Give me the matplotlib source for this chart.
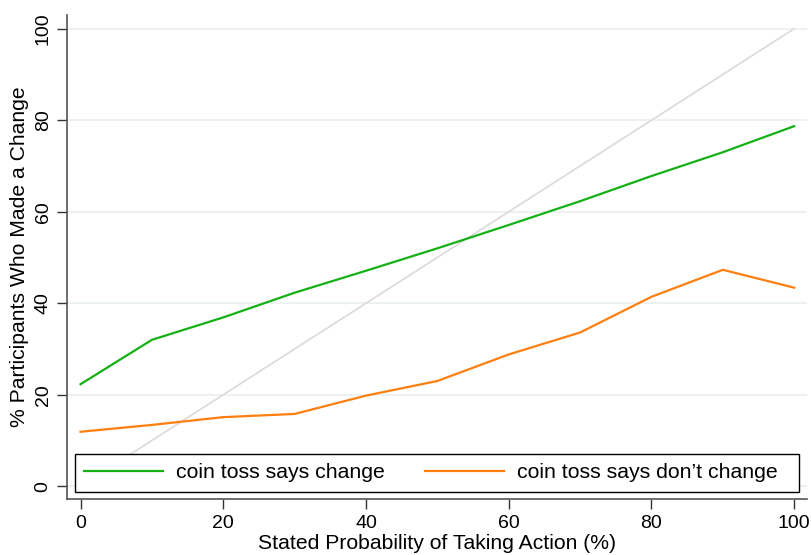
import matplotlib
matplotlib.use("Agg")
import matplotlib.pyplot as plt
from matplotlib.patches import Rectangle

prob = [0, 10, 20, 30, 40, 50, 60, 70, 80, 90, 100]
says_change = [22.3, 32.0, 36.9, 42.3, 47.1, 52.0, 57.1, 62.3, 67.8, 73.0, 78.7]
says_dont = [11.9, 13.4, 15.1, 15.8, 19.8, 23.0, 28.8, 33.6, 41.4, 47.3, 43.4]
diag = [0, 100]
xticks = [0, 20, 40, 60, 80, 100]
yticks = [0, 20, 40, 60, 80, 100]

plt.rcParams['font.family'] = ['Liberation Sans', 'DejaVu Sans']

fig = plt.figure(figsize=(8.12, 5.55), dpi=100)
ax = fig.add_axes([67/812, 1 - 499.3/555, 740/812, 484.3/555])

for y in yticks:
    ax.axhline(y, color='#eaf0f3', lw=1.3, zorder=0)

ax.plot(diag, diag, color='#dadada', lw=1.2, zorder=1)
ax.plot(prob, says_change, color='#14b014', lw=1.6, label='coin toss says change', zorder=3)
ax.plot(prob, says_dont, color='#ff7f0e', lw=1.6, label='coin toss says don\u2019t change', zorder=3)

ax.set_xlim(-1.9, 101.8)
ax.set_ylim(-2.86, 103)
ax.set_xticks(xticks)
ax.set_yticks(yticks)
ax.tick_params(axis='both', labelsize=14, length=7, width=1, color='#333333', direction='out', pad=4)
for lbl in ax.get_yticklabels():
    lbl.set_rotation(90)
    lbl.set_va('center')
for s in ['top', 'right']:
    ax.spines[s].set_visible(False)
for s in ['left', 'bottom']:
    ax.spines[s].set_color('#555555')
    ax.spines[s].set_linewidth(1.2)

ax.set_xlabel('Stated Probability of Taking Action (%)', fontsize=15.2, labelpad=2)
ax.set_ylabel('% Participants Who Made a Change', fontsize=15.2, labelpad=4)

# legend frame
ax.add_patch(Rectangle((8/740, 7/484.3), 724/740, 38.3/484.3, transform=ax.transAxes,
                       facecolor='white', edgecolor='black', lw=1.0, zorder=4, clip_on=False))
fs = 15.3
px = fs * 100 / 72
leg = ax.legend(loc='center left', bbox_to_anchor=(17/740, 26.5/484.3),
                ncol=2, fontsize=fs, frameon=False,
                handlelength=79/px, handletextpad=13/px, columnspacing=40/px,
                borderpad=0, borderaxespad=0)
leg.set_zorder(5)

fig.savefig('out.png', dpi=100)
